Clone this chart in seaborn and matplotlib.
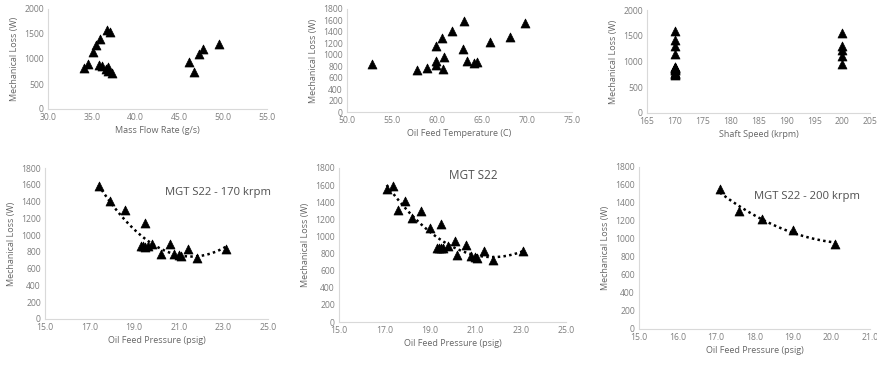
import numpy as np
import pandas as pd
import matplotlib
matplotlib.use("Agg")
import matplotlib.pyplot as plt
import seaborn as sns

# ---- data ----
mass_flow = [34.1, 34.6, 35.1, 35.5, 35.9, 35.8, 36.2, 36.7, 37.1, 36.6, 36.8, 37.3, 36.9,
             46.1, 46.7, 47.2, 47.7, 49.5]
mass_loss = [810, 890, 1135, 1280, 1400, 880, 865, 1570, 1540, 790, 760, 725, 845,
             945, 730, 1095, 1200, 1295]

oil_temp = [52.8, 57.8, 58.9, 59.9, 59.9, 59.9, 60.5, 60.7, 60.8, 61.7, 63.0, 62.9, 63.3,
            64.1, 64.4, 65.9, 68.1, 69.8]
temp_loss = [832, 730, 775, 890, 830, 1155, 1300, 760, 955, 1420, 1595, 1100, 890,
             860, 870, 1220, 1307, 1555]

p170 = [17.4, 17.9, 18.6, 19.5, 19.3, 19.5, 19.6, 19.8, 20.2, 20.6, 20.8, 21.0, 21.1,
        21.4, 21.8, 23.1, 19.4]
loss170 = [1590, 1410, 1300, 1150, 870, 860, 870, 890, 780, 900, 770, 760, 750,
           830, 730, 830, 865]
p200 = [17.1, 17.6, 18.2, 19.0, 20.1]
loss200 = [1550, 1310, 1220, 1100, 950]

speed_vals = [170, 200]

W, H = 877, 366
fig = plt.figure(figsize=(W / 100, H / 100), dpi=100)
sns.set_style("white")
plt.rcParams['font.family'] = ['Open Sans', 'DejaVu Sans']

GRAY = "#7f7f7f"
SPINE = "#d9d9d9"


def add_ax(left, right, top, bottom):
    return fig.add_axes([left / W, 1 - bottom / H, (right - left) / W, (bottom - top) / H])


def style(ax, xlim, xticks, xfmt, ylim, yticks, xlabel):
    ax.set_xlim(*xlim)
    ax.set_ylim(*ylim)
    ax.set_xticks(xticks)
    ax.set_xticklabels([xfmt.format(v) for v in xticks])
    ax.set_yticks(yticks)
    ax.set_yticklabels([str(v) for v in yticks])
    ax.tick_params(length=0, labelsize=6.2, colors=GRAY, pad=3)
    for s in ["top", "right"]:
        ax.spines[s].set_visible(False)
    for s in ["left", "bottom"]:
        ax.spines[s].set_color(SPINE)
        ax.spines[s].set_linewidth(0.8)
    ax.set_xlabel(xlabel, fontsize=6.5, color="#666666", labelpad=3)
    ax.set_ylabel("Mechanical Loss (W)", fontsize=6.5, color="#666666", labelpad=4)
    ax.set_facecolor("white")


mk = dict(marker="^", s=42, color="black", edgecolor="black", linewidth=0.5, zorder=3)

# Top row
ax1 = add_ax(48, 267, 9, 109)
sns.scatterplot(x=mass_flow, y=mass_loss, ax=ax1, **mk)
style(ax1, (30, 55), np.arange(30, 56, 5), "{:.1f}", (0, 2000), list(range(0, 2001, 500)),
      "Mass Flow Rate (g/s)")

ax2 = add_ax(347, 572, 9, 112)
sns.scatterplot(x=oil_temp, y=temp_loss, ax=ax2, **mk)
style(ax2, (50, 75), np.arange(50, 76, 5), "{:.1f}", (0, 1800), list(range(0, 1801, 200)),
      "Oil Feed Temperature (C)")

ax3 = add_ax(647, 870, 10, 113)
speed_x = [speed_vals[0]] * len(loss170) + [speed_vals[1]] * len(loss200)
sns.scatterplot(x=speed_x, y=loss170 + loss200, ax=ax3, **mk)
style(ax3, (165, 205), np.arange(165, 206, 5), "{:.0f}", (0, 2000), list(range(0, 2001, 500)),
      "Shaft Speed (krpm)")

# Bottom row
line_kws = dict(color="black", linestyle=(0, (1, 1.3)), linewidth=1.8, zorder=2)
sc_kws = dict(s=42, color="black", edgecolors="black", linewidths=0.5, alpha=1, zorder=3)

ax4 = add_ax(45, 268, 168, 319)
sns.regplot(x=p170, y=loss170, order=2, ci=None, ax=ax4, marker="^",
            scatter_kws=sc_kws, line_kws=line_kws)
style(ax4, (15, 25), np.arange(15, 26, 2), "{:.1f}", (0, 1800), list(range(0, 1801, 200)),
      "Oil Feed Pressure (psig)")
ax4.text(0.54, 0.84, "MGT S22 - 170 krpm", transform=ax4.transAxes, fontsize=8.1,
         color="#505050", ha="left", va="center")

ax5 = add_ax(339, 566, 168, 322)
sns.regplot(x=p170 + p200, y=loss170 + loss200, order=2, ci=None, ax=ax5, marker="^",
            scatter_kws=sc_kws, line_kws=line_kws)
style(ax5, (15, 25), np.arange(15, 26, 2), "{:.1f}", (0, 1800), list(range(0, 1801, 200)),
      "Oil Feed Pressure (psig)")
ax5.text(0.59, 0.95, "MGT S22", transform=ax5.transAxes, fontsize=8.5,
         color="#505050", ha="center", va="center")

ax6 = add_ax(639, 870, 167, 329)
sns.regplot(x=p200, y=loss200, order=2, ci=None, ax=ax6, marker="^",
            scatter_kws=sc_kws, line_kws=line_kws)
style(ax6, (15, 21), np.arange(15, 22, 1), "{:.1f}", (0, 1800), list(range(0, 1801, 200)),
      "Oil Feed Pressure (psig)")
ax6.text(0.50, 0.815, "MGT S22 - 200 krpm", transform=ax6.transAxes, fontsize=8.1,
         color="#505050", ha="left", va="center")

fig.savefig("out.png", dpi=100, facecolor="white")
